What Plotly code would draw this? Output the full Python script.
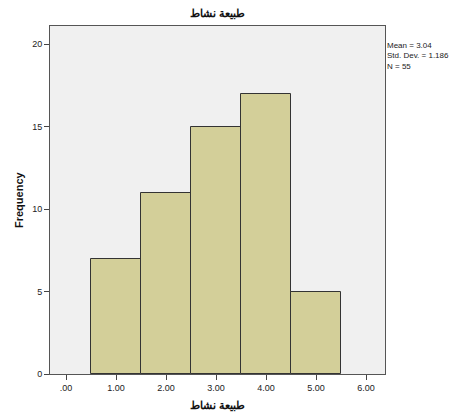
import plotly.graph_objects as go

categories = [1, 2, 3, 4, 5]
frequency = [7, 11, 15, 17, 5]
x_tick_vals = [0, 1, 2, 3, 4, 5, 6]
x_tick_text = [".00", "1.00", "2.00", "3.00", "4.00", "5.00", "6.00"]
y_tick_vals = [0, 5, 10, 15, 20]
title_text = "طبيعة نشاط"
stats_text = "Mean = 3.04<br>Std. Dev. = 1.186<br>N = 55"

fig = go.Figure()
fig.add_trace(go.Bar(
    x=categories, y=frequency, width=1,
    marker=dict(color="#d3cf99", line=dict(color="#333333", width=1)),
))

font = "Liberation Sans, Arial, sans-serif"
# page body has an 8px default margin, so the figure is 8px smaller and shifted
fig.update_layout(
    width=451, height=406,
    margin=dict(l=42, r=74, t=18, b=40, autoexpand=False),
    paper_bgcolor="white", plot_bgcolor="#f0f0f0",
    showlegend=False,
    font=dict(family=font, size=9, color="#222222"),
    xaxis=dict(range=[-0.32, 6.38], tickvals=x_tick_vals, ticktext=x_tick_text,
               ticks="outside", ticklen=5, tickcolor="#444444",
               showline=True, linecolor="#555555", linewidth=1, mirror=True,
               showgrid=False, zeroline=False, automargin=False),
    yaxis=dict(range=[0, 21.1], tickvals=y_tick_vals,
               ticks="outside", ticklen=5, tickcolor="#444444",
               showline=True, linecolor="#555555", linewidth=1, mirror=True,
               showgrid=False, zeroline=False, automargin=False),
    bargap=0,
)
fig.add_annotation(text="<b>" + title_text + "</b>", xref="paper", yref="paper",
                   x=0.5, y=1.0, yshift=13, xanchor="center", yanchor="middle",
                   showarrow=False, font=dict(size=11, color="#111111"))
fig.add_annotation(text="<b>" + title_text + "</b>", xref="paper", yref="paper",
                   x=0.5, y=0.0, yshift=-31, xanchor="center", yanchor="middle",
                   showarrow=False, font=dict(size=11, color="#111111"))
fig.add_annotation(text="<b>Frequency</b>", xref="paper", yref="paper",
                   x=0.0, xshift=-31, y=0.5, xanchor="center", yanchor="middle",
                   textangle=-90, showarrow=False, font=dict(size=11, color="#111111"))
fig.add_annotation(text=stats_text, xref="paper", yref="paper", x=1.0, xshift=0, y=0.962,
                   xanchor="left", yanchor="top", showarrow=False, align="left",
                   font=dict(size=8, color="#222222"))
fig.write_html("out.html")
